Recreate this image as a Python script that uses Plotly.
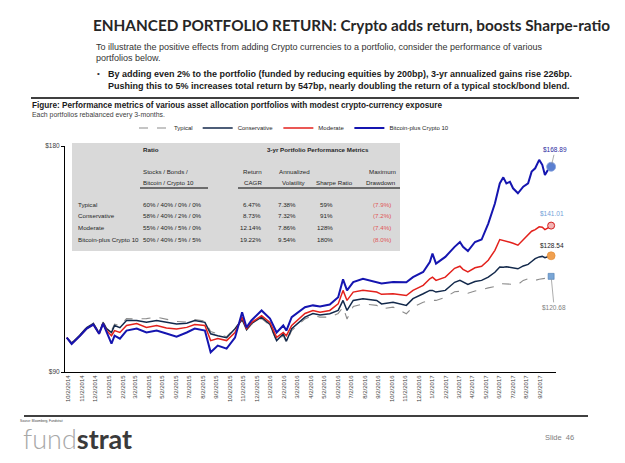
import math
from datetime import datetime
import plotly.graph_objects as go

# ---------------- data ----------------
dates = ["2014-09-29", "2014-10-10", "2014-10-29", "2014-11-13", "2014-11-28", "2014-12-11", "2014-12-20",
         "2014-12-28", "2015-01-08", "2015-01-15", "2015-01-27", "2015-02-11", "2015-03-06", "2015-03-28",
         "2015-04-20", "2015-05-12", "2015-06-04", "2015-06-27", "2015-07-15", "2015-08-07", "2015-08-20",
         "2015-09-05", "2015-09-25", "2015-10-14", "2015-10-30", "2015-11-09", "2015-11-20", "2015-12-13",
         "2016-01-01", "2016-01-16", "2016-01-31", "2016-02-07", "2016-02-19", "2016-03-20", "2016-04-07",
         "2016-04-23", "2016-05-15", "2016-06-03", "2016-06-14", "2016-06-23", "2016-07-07", "2016-07-29",
         "2016-08-29", "2016-09-09", "2016-10-05", "2016-11-04", "2016-11-19", "2016-12-12", "2016-12-27",
         "2017-01-02", "2017-01-10", "2017-01-31", "2017-02-21", "2017-03-05", "2017-03-12", "2017-03-23",
         "2017-04-08", "2017-04-23", "2017-05-08", "2017-05-23", "2017-06-03", "2017-06-11", "2017-06-18",
         "2017-06-26", "2017-07-03", "2017-07-14", "2017-07-26", "2017-08-06", "2017-08-14", "2017-08-22",
         "2017-08-31", "2017-09-07", "2017-09-13", "2017-09-19", "2017-09-27"]

typical = [100.0, 98.5, 100.9, 103.3, 104.6, 101.6, 104.9, 103.1, 102.2, 104.2,
           103.8, 106.0, 105.9, 106.0, 106.5, 105.7, 105.1, 104.9, 105.7, 105.2,
           101.9, 101.2, 100.3, 103.1, 105.4, 102.3, 104.1, 106.0, 103.8, 98.8,
           100.6, 98.5, 102.2, 105.9, 107.0, 106.5, 106.5, 107.7, 109.8, 105.9,
           110.0, 110.9, 110.4, 109.2, 109.8, 107.6, 109.8, 111.5, 112.1, 112.1,
           112.1, 113.2, 115.1, 115.3, 114.9, 114.6, 115.4, 115.8, 116.5, 117.0,
           118.0, 117.9, 117.9, 117.7, 117.6, 117.7, 119.2, 119.8, 119.4, 119.2,
           119.6, 119.8, 119.9, 120.1, 120.68]

conservative = [100.0, 98.3, 100.8, 103.1, 104.4, 101.4, 104.7, 102.8, 101.6, 103.8,
                103.1, 105.4, 105.4, 104.8, 105.4, 104.8, 104.3, 104.5, 105.4, 104.8,
                101.2, 100.6, 100.0, 102.8, 105.7, 102.5, 104.4, 106.5, 104.1, 99.1,
                101.2, 98.9, 102.8, 106.5, 107.7, 107.2, 107.6, 108.7, 112.1, 108.7,
                112.1, 112.7, 112.1, 110.9, 111.5, 110.4, 112.7, 114.4, 115.6, 115.6,
                115.0, 115.6, 118.5, 119.2, 118.5, 117.7, 118.8, 119.2, 120.4, 122.2,
                124.2, 124.1, 124.3, 124.1, 123.9, 123.5, 124.6, 125.2, 126.3, 127.4,
                128.1, 128.3, 127.8, 128.1, 128.54]

moderate = [100.0, 98.1, 100.6, 102.8, 104.1, 101.2, 104.4, 102.2, 100.6, 102.2,
            101.6, 103.8, 104.4, 103.2, 103.8, 103.0, 102.7, 103.2, 104.1, 103.8,
            99.1, 99.7, 99.1, 101.6, 106.5, 102.8, 104.7, 107.0, 104.8, 100.1,
            101.6, 100.6, 103.8, 107.7, 108.7, 108.1, 108.7, 110.9, 115.6, 112.1,
            115.0, 115.6, 115.0, 114.2, 114.4, 113.8, 115.6, 117.4, 119.8, 120.4,
            119.2, 120.4, 123.7, 124.5, 123.3, 122.3, 123.9, 124.5, 126.8, 130.7,
            135.1, 134.8, 134.4, 134.0, 133.6, 132.8, 135.0, 136.9, 138.6, 139.3,
            140.5, 140.3, 139.3, 139.9, 141.01]

bitcoin_plus = [100.0, 98.1, 100.6, 102.8, 104.1, 101.2, 104.4, 101.9, 98.2, 100.6,
                99.7, 102.2, 102.8, 101.6, 102.2, 101.3, 100.3, 101.6, 102.8, 102.2,
                95.6, 97.6, 96.7, 100.0, 108.1, 103.2, 105.4, 108.7, 106.0, 101.6,
                103.8, 102.2, 106.5, 109.8, 110.4, 110.0, 110.7, 113.2, 119.6, 115.6,
                118.6, 119.8, 118.6, 118.1, 118.6, 118.5, 120.4, 122.3, 126.1, 129.4,
                125.5, 128.1, 132.1, 134.1, 132.1, 130.4, 134.1, 135.1, 141.9, 150.9,
                160.5, 163.5, 160.5, 161.3, 158.1, 155.7, 158.9, 160.5, 166.4, 168.1,
                172.5, 169.9, 164.7, 167.0, 168.89]

series_names = ["Typical", "Conservative", "Moderate", "Bitcoin-plus Crypto 10"]

x_tick_labels = ["10/2/2014", "11/2/2014", "12/2/2014", "1/2/2015", "2/2/2015", "3/2/2015", "4/2/2015",
                 "5/2/2015", "6/2/2015", "7/2/2015", "8/2/2015", "9/2/2015", "10/2/2015", "11/2/2015",
                 "12/2/2015", "1/2/2016", "2/2/2016", "3/2/2016", "4/2/2016", "5/2/2016", "6/2/2016",
                 "7/2/2016", "8/2/2016", "9/2/2016", "10/2/2016", "11/2/2016", "12/2/2016", "1/2/2017",
                 "2/2/2017", "3/2/2017", "4/2/2017", "5/2/2017", "6/2/2017", "7/2/2017", "8/2/2017",
                 "9/2/2017"]
y_tick_values = [90, 180]
y_tick_labels = ["$90", "$180"]

# table
table_rows = ["Typical", "Conservative", "Moderate", "Bitcoin-plus Crypto 10"]
table_alloc = ["60% / 40% / 0% / 0%", "58% / 40% / 2% / 0%", "55% / 40% / 5% / 0%", "50% / 40% / 5% / 5%"]
table_cagr = ["6.47%", "8.73%", "12.14%", "19.22%"]
table_vol = ["7.38%", "7.32%", "7.86%", "9.54%"]
table_sharpe = ["59%", "91%", "128%", "180%"]
table_dd = ["(7.9%)", "(7.2%)", "(7.4%)", "(8.0%)"]

# ---------------- layout helpers ----------------
# page is 625x463; the html body adds an 8px margin, so the figure is 8px smaller
W, H = 617, 455
L, R, T, B = 57, 69, 138, 91
PW, PH = W - L - R, H - T - B


def X(px):  # page pixel -> paper
    return (px - 8 - L) / PW


def Y(py):
    return (H - B - (py - 8)) / PH


SANS = "Liberation Sans, Arial, sans-serif"

fig = go.Figure()

styles = [
    dict(color="#8c8c8c", width=1.1, dash="dash"),
    dict(color="#13294b", width=1.5),
    dict(color="#e3211c", width=1.5),
    dict(color="#1515b0", width=2.0),
]
all_series = [typical, conservative, moderate, bitcoin_plus]
for name, s, st in zip(series_names, all_series, styles):
    fig.add_trace(go.Scatter(x=dates, y=s, mode="lines", name=name, line=st, hoverinfo="skip"))

# end markers
end_markers = [
    dict(symbol="square", size=6, color="#7aa6d6", line=dict(color="#4a7ab0", width=0.6)),
    dict(symbol="circle", size=8, color="#f0a050", line=dict(color="#e08a30", width=0.6)),
    dict(symbol="circle", size=7, color="#f3b4b4", line=dict(color="#d42020", width=1)),
    dict(symbol="circle", size=9, color="#5b7fd0", line=dict(color="#8aa6e0", width=0.8)),
]
for s, mk in zip(all_series, end_markers):
    fig.add_trace(go.Scatter(x=[dates[-1]], y=[s[-1]], mode="markers", marker=mk,
                             showlegend=False, hoverinfo="skip"))

ann = []


def txt(px, py, text, size=7, color="#262626", anchor="left", bold=False, family=SANS, weight=None):
    f = dict(size=size, color=color, family=family)
    if weight is not None:
        f["weight"] = weight
    ann.append(dict(x=X(px), y=Y(py), xref="paper", yref="paper", text=("<b>%s</b>" % text) if bold else text,
                    showarrow=False, xanchor=anchor, yanchor="middle", font=f, borderpad=0))


# slide header
txt(92, 25, "ENHANCED PORTFOLIO RETURN: Crypto adds return, boosts Sharpe-ratio", size=15.3,
    color="#262626", family="Lato, sans-serif", weight=700)
txt(95, 47, "To illustrate the positive effects from adding Crypto currencies to a portfolio, consider the performance of various",
    size=9, color="#333333")
txt(95, 58, "portfolios below.", size=9, color="#333333")
txt(96, 74, "•", size=8, color="#333333")
txt(107, 74, "By adding even 2% to the portfolio (funded by reducing equities by 200bp), 3-yr annualized gains rise 226bp.",
    size=9, color="#1a1a1a", bold=True)
txt(107, 86, "Pushing this to 5% increases total return by 547bp, nearly doubling the return of a typical stock/bond blend.",
    size=9, color="#1a1a1a", bold=True)
txt(31, 105, "Figure: Performance metrics of various asset allocation portfolios with modest crypto-currency exposure",
    size=8.2, color="#1a1a1a", bold=True)
txt(31, 115, "Each portfolios rebalanced every 3-months.", size=6.9, color="#404040")

# table
hdr = 149.5
txt(141.7, hdr, "Ratio", size=6.2, bold=True)
txt(266, hdr, "3-yr Portfolio Performance Metrics", size=6.2, bold=True)
txt(141.7, 171, "Stocks / Bonds /", size=6.2)
txt(141.7, 182, "Bitcoin / Crypto 10", size=6.2)
txt(263, 171, "Return", size=6.2, anchor="right")
txt(263, 182, "CAGR", size=6.2, anchor="right")
txt(278, 171, "Annualized", size=6.2)
txt(281, 182, "Volatility", size=6.2)
txt(315, 182, "Sharpe Ratio", size=6.2)
txt(397, 171.5, "Maximum", size=6.2, anchor="right")
txt(397, 182.5, "Drawdown", size=6.2, anchor="right")
row_y = [204, 215.7, 227.3, 239]
for i, yy in enumerate(row_y):
    txt(76.5, yy, table_rows[i], size=6.2)
    txt(141.7, yy, table_alloc[i], size=6.2)
    txt(262, yy, table_cagr[i], size=6.2, anchor="right")
    txt(297, yy, table_vol[i], size=6.2, anchor="right")
    txt(334, yy, table_sharpe[i], size=6.2, anchor="right")
    txt(382, yy, table_dd[i], size=6.2, anchor="center", color="#e05555")

# end labels
last = dates[-1]
end_lab = [
    (bitcoin_plus[-1], "#2b2ba0", 4, -17, True),
    (moderate[-1], "#6fa0d8", 1, -12, False),
    (conservative[-1], "#1a1a1a", 1, -10, False),
    (typical[-1], "#808080", 3, 31, True),
]
for v, col, ax, ay, arrow in end_lab:
    d = dict(x=last, y=math.log10(v), xref="x", yref="y", text="$%.2f" % v,
             font=dict(size=6.5, color=col, family=SANS))
    if arrow:
        d.update(showarrow=True, arrowhead=0, arrowwidth=0.7, arrowcolor="#8a8a8a", ax=ax, ay=ay, standoff=3)
    else:
        d.update(showarrow=False, xshift=ax, yshift=-ay)
    ann.append(d)

# footer
txt(19, 421, "Source: Bloomberg, Fundstrat", size=3.2, color="#404040")
ann.append(dict(x=X(22), y=Y(438), xref="paper", yref="paper", showarrow=False, xanchor="left", yanchor="middle",
                text="<span style='color:#a8a8a8;font-weight:300'>fund</span><span style='color:#3a3a3a'><b>strat</b></span>",
                font=dict(size=27, family="Lato, sans-serif"), borderpad=0))
txt(575, 437, "Slide  46", size=7.5, color="#808080", anchor="right")

shapes = [
    dict(type="rect", xref="paper", yref="paper", x0=X(72), x1=X(400), y0=Y(251), y1=Y(143),
         fillcolor="#d9d9d9", line=dict(width=0), layer="below"),
    dict(type="line", xref="paper", yref="paper", x0=X(140), x1=X(208), y0=Y(188), y1=Y(188),
         line=dict(color="#000000", width=1)),
    dict(type="line", xref="paper", yref="paper", x0=X(238), x1=X(400), y0=Y(188), y1=Y(188),
         line=dict(color="#000000", width=1)),
    dict(type="line", xref="paper", yref="paper", x0=X(31), x1=X(579), y0=Y(98), y1=Y(98),
         line=dict(color="#404040", width=2)),
    dict(type="line", xref="paper", yref="paper", x0=X(24), x1=X(588), y0=Y(416), y1=Y(416),
         line=dict(color="#404040", width=2)),
]

tickvals = [datetime.strptime(t, "%m/%d/%Y").strftime("%Y-%m-%d") for t in x_tick_labels]

fig.update_layout(
    width=W, height=H,
    margin=dict(l=L, r=R, t=T, b=B, pad=0, autoexpand=False),
    paper_bgcolor="white", plot_bgcolor="white",
    showlegend=True,
    legend=dict(orientation="h", x=X(294), xanchor="center", y=Y(128), yanchor="middle",
                font=dict(size=6, family=SANS, color="#262626"), bgcolor="rgba(0,0,0,0)",
                itemwidth=30, tracegroupgap=0),
    annotations=ann,
    shapes=shapes,
    xaxis=dict(type="date", range=["2014-09-25", "2017-10-08"], tickvals=tickvals, ticktext=x_tick_labels,
               tickangle=-90, tickfont=dict(size=6, family=SANS, color="#404040"), showgrid=False,
               showline=True, linecolor="#000000", linewidth=1, ticks="", zeroline=False, automargin=False),
    yaxis=dict(type="log", range=[math.log10(90), math.log10(180)], tickvals=y_tick_values,
               ticktext=y_tick_labels, tickfont=dict(size=6.5, family=SANS, color="#404040"),
               showgrid=False, showline=True, linecolor="#000000", linewidth=1, ticks="outside",
               ticklen=3, tickcolor="#000000", zeroline=False, automargin=False),
)

fig.write_html("out.html")
